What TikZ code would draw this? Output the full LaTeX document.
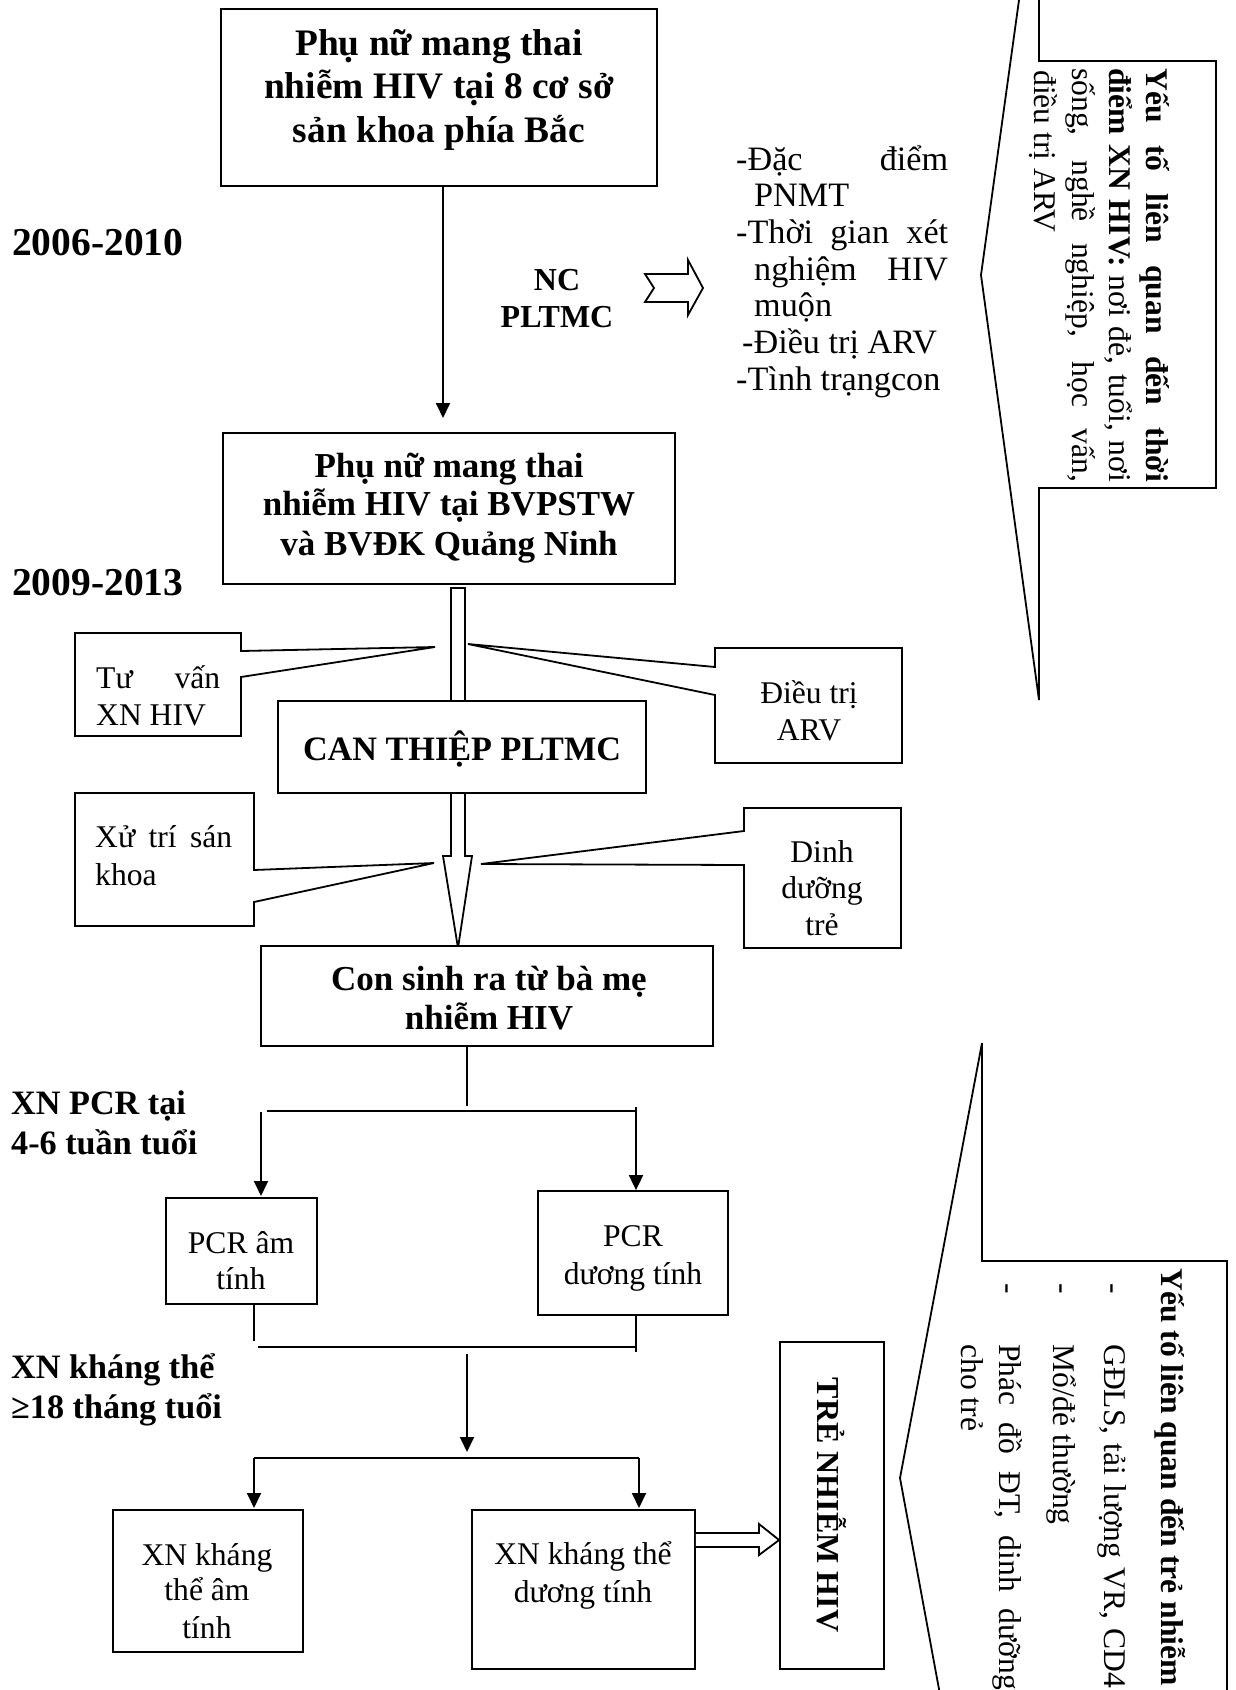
\documentclass[tikz,border=0pt]{standalone}
\usepackage{fontspec}
\setmainfont{Liberation Serif}
\usetikzlibrary{arrows.meta}
\newcommand\fzA{\fontsize{37.4}{43}\selectfont}
\newcommand\fzB{\fontsize{35}{40}\selectfont}
\newcommand\fzC{\fontsize{34.2}{40}\selectfont}
\newcommand\fzD{\fontsize{31.6}{37}\selectfont}
\newcommand\fzE{\fontsize{39.5}{45}\selectfont}
\newcommand\fzF{\fontsize{32}{37}\selectfont}
\tikzset{
  ln/.style={line width=1.8pt},
  arr/.style={line width=1.8pt,-{Triangle[length=15pt,width=14pt]}},
  box/.style={draw,line width=1.8pt,fill=white,inner sep=0pt},
  tc/.style={inner sep=0pt,anchor=base},
  tl/.style={inner sep=0pt,anchor=base west},
  rt/.style={inner sep=0pt,anchor=base west,rotate=-90},
}
\begin{document}
\begin{tikzpicture}[x=1pt,y=-1pt]
\useasboundingbox (0,0) rectangle (1236,1690);
\fill[white] (0,0) rectangle (1236,1690);

% ---------- hollow vertical arrow behind CAN THIEP ----------
\draw[ln,fill=white] (451,588) -- (465,588) -- (465,856) -- (472,856) -- (458,948) -- (443,856) -- (451,856) -- cycle;

% ---------- main boxes ----------
\node[box,minimum width=436pt,minimum height=177pt] (b1) at (439,97.5) {};
\node[box,minimum width=452pt,minimum height=151pt] (b2) at (449,508.5) {};
\node[box,minimum width=368pt,minimum height=92pt] (ct) at (462,747) {};
\node[box,minimum width=452pt,minimum height=100pt] (cs) at (487,996) {};
\node[box,minimum width=151pt,minimum height=106pt] (pa) at (241.5,1251) {};
\node[box,minimum width=190pt,minimum height=124pt] (pd) at (633,1253) {};
\node[box,minimum width=190pt,minimum height=142pt] (xa) at (208,1581) {};
\node[box,minimum width=223pt,minimum height=159pt] (xd) at (583.5,1589.5) {};
\node[box,minimum width=104pt,minimum height=327pt] (tr) at (832,1505.5) {};

% ---------- box texts ----------
\node[tc,font=\fzA\bfseries] (b1t1) at (439,55) {Phụ nữ mang thai};
\node[tc,font=\fzA\bfseries] (b1t2) at (439,98) {nhiễm HIV tại 8 cơ sở};
\node[tc,font=\fzA\bfseries] (b1t3) at (439,142) {sản khoa phía Bắc};

\node[tc,font=\fzB\bfseries] (b2t1) at (449,477) {Phụ nữ mang thai};
\node[tc,font=\fzB\bfseries] (b2t2) at (449,515) {nhiễm HIV tại BVPSTW};
\node[tc,font=\fzB\bfseries] (b2t3) at (449,555) {và BVĐK Quảng Ninh};

\node[tc,font=\fzC\bfseries] (ctt) at (462,760) {CAN THIỆP PLTMC};

\node[tc,font=\fzB\bfseries] (cst1) at (489,990) {Con sinh ra từ bà mẹ};
\node[tc,font=\fzB\bfseries] (cst2) at (489,1029) {nhiễm HIV};

\node[tc,font=\fzD] (pat1) at (241,1253) {PCR âm};
\node[tc,font=\fzD] (pat2) at (241,1289) {tính};
\node[tc,font=\fzD] (pdt1) at (633,1246) {PCR};
\node[tc,font=\fzD] (pdt2) at (633,1284) {dương tính};
\node[tc,font=\fzD] (xat1) at (207,1565) {XN kháng};
\node[tc,font=\fzD] (xat2) at (207,1600) {thể âm};
\node[tc,font=\fzD] (xat3) at (207,1638) {tính};
\node[tc,font=\fzD] (xdt1) at (583,1564) {XN kháng thể};
\node[tc,font=\fzD] (xdt2) at (583,1602) {dương tính};
\node[font=\fzF\bfseries,inner sep=0pt,rotate=-90] (trt) at (832,1505) {TRẺ NHIỄM HIV};

% ---------- left labels ----------
\node[tl,font=\fzE\bfseries] (y1) at (12,255) {2006-2010};
\node[tl,font=\fzE\bfseries] (y2) at (12,595) {2009-2013};
\node[tl,font=\fzC\bfseries] (lp1) at (11,1114) {XN PCR tại};
\node[tl,font=\fzC\bfseries] (lp2) at (11,1154) {4-6 tuần tuổi};
\node[tl,font=\fzC\bfseries] (lk1) at (11,1378) {XN kháng thể};
\node[tl,font=\fzC\bfseries] (lk2) at (11,1418) {≥18 tháng tuổi};

% ---------- NC PLTMC + notched arrow + list ----------
\node[tc,font=\fzF\bfseries] (nc1) at (557,290) {NC};
\node[tc,font=\fzF\bfseries] (nc2) at (557,327) {PLTMC};
\draw[ln] (645,274) -- (688,274) -- (688,260) -- (703,288) -- (688,315) -- (688,302) -- (645,302) -- (654,288) -- cycle;

\node[tl,font=\fzC] (li1) at (736,170) {\makebox[212pt][s]{-Đặc điểm}};
\node[tl,font=\fzC] (li2) at (754,206.7) {PNMT};
\node[tl,font=\fzC] (li3) at (736,243.3) {\makebox[212pt][s]{-Thời gian xét}};
\node[tl,font=\fzC] (li4) at (754,280) {\makebox[194pt][s]{nghiệm HIV}};
\node[tl,font=\fzC] (li5) at (754,316.7) {muộn};
\node[tl,font=\fzC] (li6) at (742,353.3) {-Điều trị ARV};
\node[tl,font=\fzC] (li7) at (736,390) {-Tình trạngcon};

% ---------- side callouts ----------
\draw[ln] (75,633) -- (241,633) -- (241,651) -- (435,647) -- (241,677) -- (241,736) -- (75,736) -- cycle;
\node[tl,font=\fzD] (tv1) at (96,688) {\makebox[124pt][s]{Tư vấn}};
\node[tl,font=\fzD] (tv2) at (96,725) {XN HIV};

\draw[ln] (715,648) -- (902,648) -- (902,763) -- (715,763) -- (715,695) -- (468,644) -- (715,667) -- cycle;
\node[tc,font=\fzD] (dt1) at (809,703) {Điều trị};
\node[tc,font=\fzD] (dt2) at (809,740) {ARV};

\draw[ln] (75,793) -- (254,793) -- (254,870) -- (434,863) -- (254,902) -- (254,926) -- (75,926) -- cycle;
\node[tl,font=\fzD] (xs1) at (95,847) {\makebox[137pt][s]{Xử trí sán}};
\node[tl,font=\fzD] (xs2) at (95,885) {khoa};

\draw[ln] (744,808) -- (901,808) -- (901,948) -- (744,948) -- (744,865) -- (481,864) -- (744,831) -- cycle;
\node[tc,font=\fzD] (dd1) at (822,862) {Dinh};
\node[tc,font=\fzD] (dd2) at (822,898) {dưỡng};
\node[tc,font=\fzD] (dd3) at (822,935) {trẻ};

% ---------- big callout 1 (top right) ----------
\draw[ln] (1039,-5) -- (1039,61) -- (1216,61) -- (1216,488) -- (1039,488) -- (1039,700) -- (981,275) -- (1019.7,-5);
\node[rt,font=\fzD\bfseries] (c1a) at (1146,68) {\makebox[414pt][s]{Yếu tố liên quan đến thời}};
\node[rt,font=\fzD] (c1b) at (1109,68) {\makebox[414pt][s]{\textbf{điểm XN HIV:} nơi đẻ, tuổi, nơi}};
\node[rt,font=\fzD] (c1c) at (1072,68) {\makebox[414pt][s]{sống, nghề nghiệp, học vấn,}};
\node[rt,font=\fzD] (c1d) at (1034,70) {điều trị ARV};

% ---------- big callout 2 (bottom right) ----------
\draw[ln] (941,1700) -- (900,1478) -- (982,1043) -- (982,1261) -- (1227,1261) -- (1227,1700);
\node[rt,font=\fzD\bfseries] (c2a) at (1161,1268) {Yếu tố liên quan đến trẻ nhiễm};
\node[rt,font=\fzD] (c2b0) at (1104,1283) {-};
\node[rt,font=\fzD] (c2b) at (1104,1344) {\makebox[344pt][s]{GĐLS, tải lượng VR, CD4}};
\node[rt,font=\fzD] (c2c0) at (1053,1283) {-};
\node[rt,font=\fzD] (c2c) at (1053,1344) {Mổ/đẻ thường};
\node[rt,font=\fzD] (c2d0) at (999,1283) {-};
\node[rt,font=\fzD] (c2d) at (999,1344) {\makebox[346pt][s]{Phác đồ ĐT, dinh dưỡng}};
\node[rt,font=\fzD] (c2e) at (961,1344) {cho trẻ};

% ---------- connectors ----------
\coordinate (a1e) at (443,418);
\draw[arr] (b1.south -| a1e) -- (a1e);

\coordinate (j0) at (467,1106);
\draw[ln] (cs.south -| j0) -- (j0);
\coordinate (h1l) at (267,1111);
\coordinate (h1r) at (636,1111);
\draw[ln] (h1l) -- (h1r);
\coordinate (v1l) at (261,1112);
\draw[arr] (v1l) -- (v1l |- 0,1196);
\coordinate (v1r) at (636,1107);
\draw[arr] (v1r) -- (pd.north -| v1r);

\coordinate (k1) at (254,1341);
\draw[ln] (pa.south -| k1) -- (k1);
\coordinate (h2l) at (258,1347);
\coordinate (h2r) at (635,1347);
\draw[ln] (h2l) -- (h2r);
\coordinate (k2) at (636,1352);
\draw[ln] (pd.south -| k2) -- (k2);

\coordinate (m1) at (467,1354);
\coordinate (m2) at (467,1452);
\draw[arr] (m1) -- (m2);
\coordinate (h3l) at (254,1458);
\coordinate (h3r) at (639,1458);
\draw[ln] (h3l) -- (h3r);
\draw[arr] (h3l) -- (254,1508);
\draw[arr] (h3r) -- (639,1508);

% hollow arrow to TRE NHIEM HIV
\draw[ln,fill=white] (xd.east |- 0,1533) -- (759,1533) -- (759,1524) -- (tr.west |- 0,1540) -- (759,1555) -- (759,1547) -- (xd.east |- 0,1547);
\end{tikzpicture}
\end{document}
